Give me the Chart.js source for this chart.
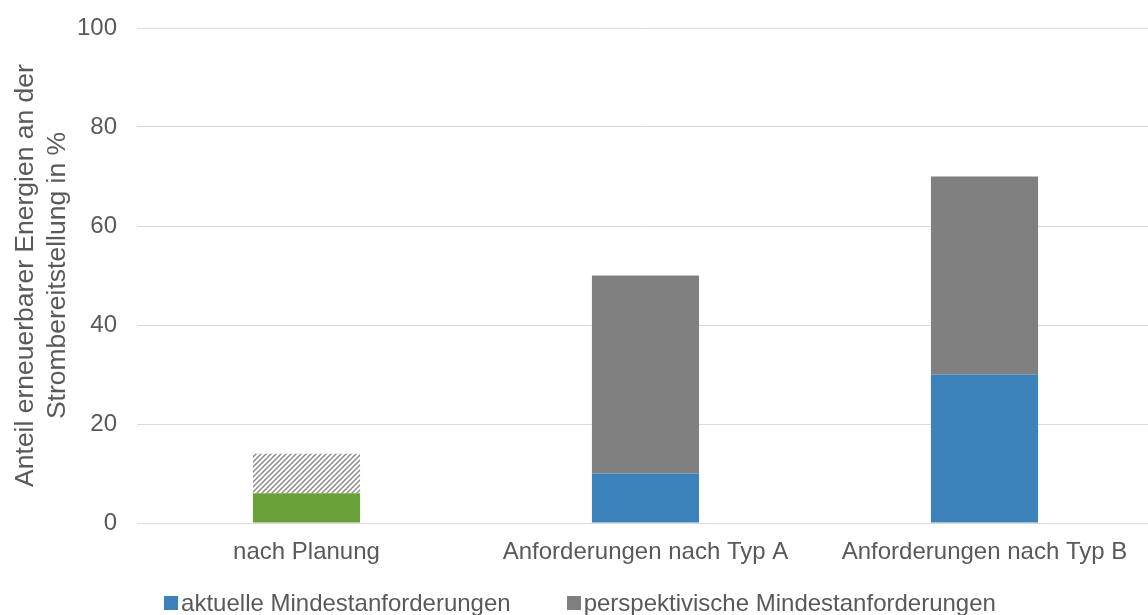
<!DOCTYPE html>
<html>
<head>
<meta charset="utf-8">
<script src="https://cdn.jsdelivr.net/npm/chart.js@4.4.0/dist/chart.umd.min.js"></script>
<style>
  html, body { margin: 0; padding: 0; background: #ffffff; }
  #wrap { width: 1148px; height: 615px; position: relative; overflow: hidden; }
</style>
</head>
<body>
<div id="wrap"><canvas id="chart" width="1154" height="615"></canvas></div>
<script>
// Categories and values (share of renewable energy in %)
const categories = ['nach Planung', 'Anforderungen nach Typ A', 'Anforderungen nach Typ B'];
const aktuelle = [null, 10, 30];          // current minimum requirement
const perspektivisch = [null, 40, 40];    // additional prospective requirement
const planungFest = [6, null, null];      // planned share
const planungOptional = [8, null, null];  // possible additional planned share (hatched)
const yTicks = [0, 20, 40, 60, 80, 100];

const textColor = '#595959';
const fontFamily = '"Liberation Sans", Arial, sans-serif';
const fontSize = 24;
const titleSize = 26.5;

// diagonal hatch pattern for the optional planned share
function hatchPattern() {
  const size = 5;
  const c = document.createElement('canvas');
  c.width = size; c.height = size;
  const g = c.getContext('2d');
  g.fillStyle = '#ffffff';
  g.fillRect(0, 0, size, size);
  g.strokeStyle = '#8c8c8c';
  g.lineWidth = 1.5;
  g.beginPath();
  g.moveTo(-1, size + 1); g.lineTo(size + 1, -1);
  g.moveTo(-1, 1); g.lineTo(1, -1);
  g.moveTo(size - 1, size + 1); g.lineTo(size + 1, size - 1);
  g.stroke();
  return g.createPattern(c, 'repeat');
}

// legend for the two requirement series, drawn below the axis labels
const bottomLegend = {
  id: 'bottomLegend',
  afterDraw(chart) {
    const ctx = chart.ctx;
    const items = chart.data.datasets.slice(0, 2);
    const box = 14, textGap = 3, itemGap = 56;
    ctx.save();
    ctx.font = fontSize + 'px ' + fontFamily;
    const widths = items.map(d => ctx.measureText(d.label).width);
    const total = widths.reduce((s, w) => s + box + textGap + w, 0) + itemGap * (items.length - 1);
    let x = chart.width / 2 + 3 - total / 2;
    const yc = 603;
    ctx.textBaseline = 'middle';
    ctx.textAlign = 'left';
    items.forEach((d, i) => {
      ctx.fillStyle = d.backgroundColor;
      ctx.fillRect(Math.round(x), Math.round(yc - box / 2), box, box);
      x += box + textGap;
      ctx.fillStyle = textColor;
      ctx.fillText(d.label, x, yc + 1);
      x += widths[i] + itemGap;
    });
    ctx.restore();
  }
};

const ctx = document.getElementById('chart').getContext('2d');
new Chart(ctx, {
  type: 'bar',
  data: {
    labels: categories,
    datasets: [
      { label: 'aktuelle Mindestanforderungen', data: aktuelle, backgroundColor: '#3b82ba', stack: 's' },
      { label: 'perspektivische Mindestanforderungen', data: perspektivisch, backgroundColor: '#808080', stack: 's' },
      { label: 'Planung', data: planungFest, backgroundColor: '#69a03a', stack: 's' },
      { label: 'Planung optional', data: planungOptional, backgroundColor: hatchPattern(), stack: 's' }
    ]
  },
  plugins: [bottomLegend],
  options: {
    responsive: false,
    animation: false,
    devicePixelRatio: 1,
    layout: { padding: { top: 28, right: 0, left: 10, bottom: 0 } },
    datasets: { bar: { categoryPercentage: 1.0, barPercentage: 0.316 } },
    scales: {
      x: {
        stacked: true,
        grid: { display: false, drawTicks: false },
        border: { display: true, color: '#d9d9d9', width: 1 },
        ticks: { color: textColor, font: { family: fontFamily, size: fontSize }, padding: 15, maxRotation: 0 },
        afterFit: (scale) => { scale.height = 92; scale.paddingLeft = 0; scale.paddingRight = 0; }
      },
      y: {
        stacked: true,
        min: 0, max: 100,
        afterBuildTicks: (axis) => { axis.ticks = yTicks.map(v => ({ value: v })); },
        grid: { color: '#d9d9d9', lineWidth: 1, drawTicks: false },
        border: { display: false },
        ticks: { color: textColor, font: { family: fontFamily, size: fontSize }, padding: 20 },
        title: {
          display: true,
          text: ['Anteil erneuerbarer Energien an der', 'Strombereitstellung in %'],
          color: textColor,
          font: { family: fontFamily, size: titleSize, lineHeight: 1.2 },
          padding: { top: 0, bottom: 0 }
        },
        afterFit: (scale) => { scale.width = 127; scale.paddingTop = 0; scale.paddingBottom = 0; }
      }
    },
    plugins: {
      legend: { display: false },
      tooltip: { enabled: false }
    }
  }
});
</script>
</body>
</html>
